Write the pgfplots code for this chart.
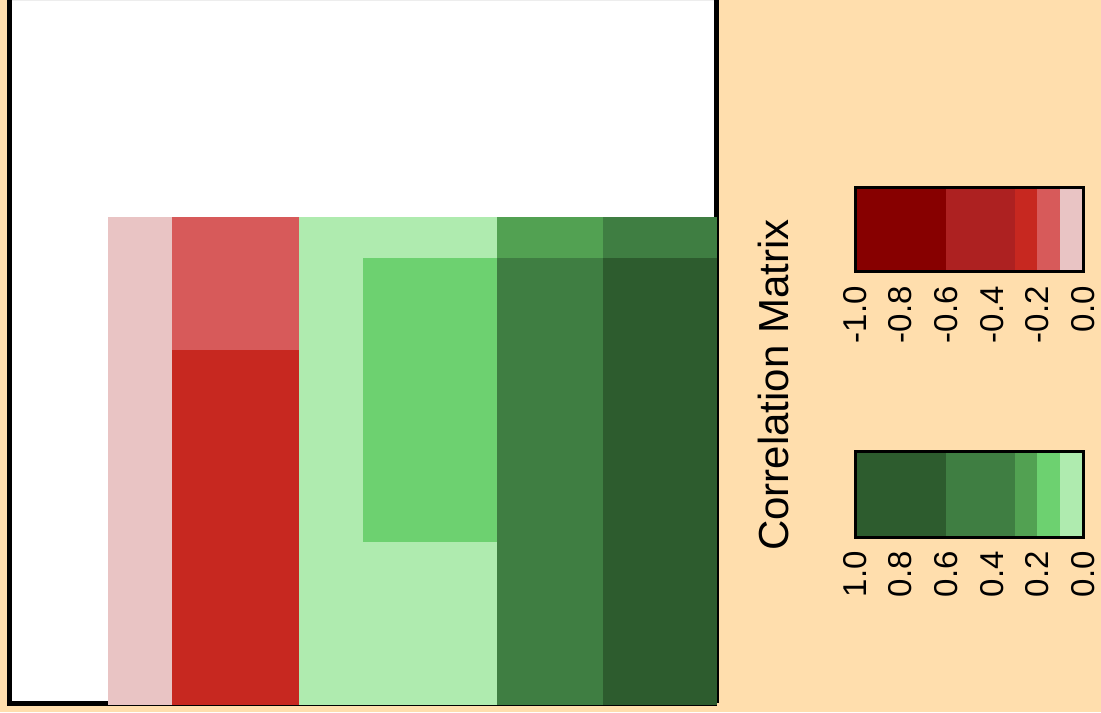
\documentclass[border=0pt]{standalone}
\usepackage{pgfplots}
\pgfplotsset{compat=1.18}
\usepackage{fontspec}
\setmainfont{Liberation Sans}
\definecolor{bg}{HTML}{FFDEAD}
\definecolor{r1}{HTML}{870000}
\definecolor{r2}{HTML}{AD2121}
\definecolor{r3}{HTML}{C72820}
\definecolor{r4}{HTML}{D75A5A}
\definecolor{r5}{HTML}{E9C4C4}
\definecolor{g1}{HTML}{2D5C2E}
\definecolor{g2}{HTML}{3F7E42}
\definecolor{g3}{HTML}{52A152}
\definecolor{g4}{HTML}{6DD170}
\definecolor{g5}{HTML}{AFEBAF}
\newcommand{\rect}[5]{\addplot[fill=#1,draw=none,forget plot] coordinates {(#2,#3) (#4,#3) (#4,#5) (#2,#5)} -- cycle;}
\begin{document}
\begin{tikzpicture}
\fill[bg] (0pt,0pt) rectangle (550.5pt,356pt);
% main panel, coordinates in pixel units of the panel
\begin{axis}[
  at={(0pt,0pt)}, anchor=south west,
  scale only axis, width=360pt, height=356pt,
  xmin=0, xmax=720, ymin=0, ymax=712, y dir=reverse,
  axis lines=none, clip=false]
\rect{black}{7}{0}{12}{706}
\rect{black}{10}{701}{717}{706}
\rect{black}{714}{0}{719}{703}
\rect{white}{12}{1}{714}{701}
\rect{black!7}{12}{0}{714}{1}
\rect{r5}{108}{217}{172}{705}
\rect{r4}{172}{217}{299}{350}
\rect{r3}{172}{350}{299}{705}
\rect{g5}{299}{217}{497}{705}
\rect{g4}{363}{258}{497}{542}
\rect{g3}{497}{217}{603}{258}
\rect{g2}{497}{258}{603}{705}
\rect{g2}{603}{217}{717}{258}
\rect{g1}{603}{258}{717}{705}
\end{axis}
% negative colour bar
\begin{axis}[
  at={(427.5pt,220pt)}, anchor=south west,
  scale only axis, width=114pt, height=42pt,
  xmin=-1, xmax=0, ymin=0, ymax=1, ytick=\empty,
  axis line style={line width=1.5pt, black},
  xtick={-1,-0.8,-0.6,-0.4,-0.2,0},
  xticklabels={-1.0,-0.8,-0.6,-0.4,-0.2,0.0},
  major tick length=0pt, xticklabel shift=7pt,
  xticklabel style={rotate=90, anchor=east, inner sep=0pt, font=\fontsize{16.5}{19}\selectfont},
  axis on top]
\rect{r1}{-1}{0}{-0.6}{1}
\rect{r2}{-0.6}{0}{-0.3}{1}
\rect{r3}{-0.3}{0}{-0.2}{1}
\rect{r4}{-0.2}{0}{-0.1}{1}
\rect{r5}{-0.1}{0}{0}{1}
\end{axis}
% positive colour bar
\begin{axis}[
  at={(427.5pt,87.5pt)}, anchor=south west,
  scale only axis, width=114pt, height=42.5pt,
  xmin=0, xmax=1, x dir=reverse, ymin=0, ymax=1, ytick=\empty,
  axis line style={line width=1.5pt, black},
  xtick={1,0.8,0.6,0.4,0.2,0},
  xticklabels={1.0,0.8,0.6,0.4,0.2,0.0},
  major tick length=0pt, xticklabel shift=7pt,
  xticklabel style={rotate=90, anchor=east, inner sep=0pt, font=\fontsize{16.5}{19}\selectfont},
  axis on top]
\rect{g1}{1}{0}{0.6}{1}
\rect{g2}{0.6}{0}{0.3}{1}
\rect{g3}{0.3}{0}{0.2}{1}
\rect{g4}{0.2}{0}{0.1}{1}
\rect{g5}{0.1}{0}{0}{1}
\end{axis}
\node[rotate=90, inner sep=0pt, font=\fontsize{21}{25}\selectfont] at (386.5pt,163.5pt) {Correlation Matrix};
\end{tikzpicture}
\end{document}
